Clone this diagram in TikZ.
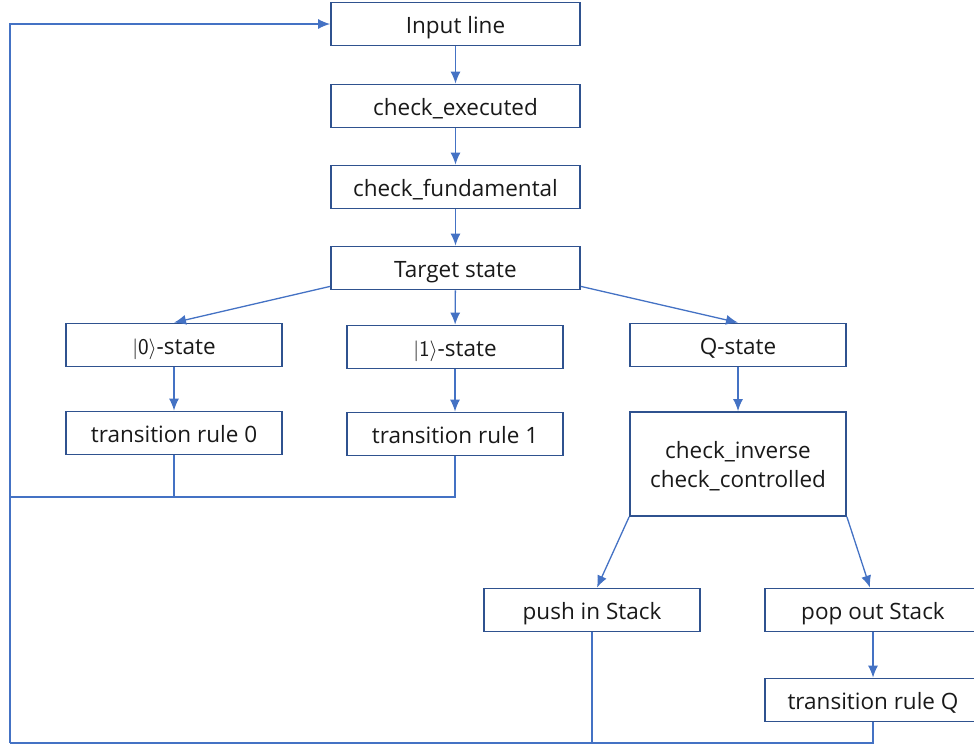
\documentclass[tikz,border=0pt]{standalone}
\usepackage{fontspec}
\setmainfont{Open Sans}
\usetikzlibrary{arrows.meta}
\definecolor{boxblue}{HTML}{2F528F}
\definecolor{linkblue}{HTML}{4472C4}
\tikzset{
  box/.style={draw=boxblue, line width=1.8pt, minimum height=43pt, inner sep=0pt,
    text=black!90, font=\fontsize{22.5}{29}\selectfont, align=center,
    text height=22pt, text depth=3pt},
  widebox/.style={box, minimum width=249pt},
  midbox/.style={box, minimum width=216pt},
  link/.style={draw=linkblue, line width=1.3pt},
}
\begin{document}
\begin{tikzpicture}[x=1pt, y=-1pt, >={Latex[length=12pt,width=10pt]}]
\useasboundingbox (0,0) rectangle (974,745);

% main column
\node[widebox] (input) at (455.5,24) {Input line};
\node[widebox] (exe) at (455.5,106) {check\_executed};
\node[widebox] (fund) at (455.5,187) {check\_fundamental};
\node[widebox] (target) at (455.5,268) {Target state};

% three states
\node[midbox] (zero) at (174,345) {$|\mathsf{0}\rangle$-state};
\node[midbox] (one) at (455,347) {$|\mathsf{1}\rangle$-state};
\node[midbox] (qst) at (738,345) {Q-state};
\node[midbox] (rule0) at (174,433) {transition rule 0};
\node[midbox] (rule1) at (455,434) {transition rule 1};
\node[midbox, minimum height=104pt, text height=50pt] (check) at (738,464) {check\_inverse\\check\_controlled};

% stack
\node[midbox] (push) at (592,610) {push in Stack};
\node[midbox] (pop) at (873,610) {pop out Stack};
\node[midbox] (ruleQ) at (873,700) {transition rule Q};

\coordinate (lt) at (10,24);
\coordinate (lmid) at (10,497);
\coordinate (lb) at (10,743);

\draw[link,->] (input) -- (exe);
\draw[link,->] (exe) -- (fund);
\draw[link,->] (fund) -- (target);
\draw[link,->] ([yshift=4pt]target.south west) -- (zero.north);
\draw[link,->] (target) -- (one);
\draw[link,->] ([yshift=4pt]target.south east) -- (qst.north);
\draw[link,->] (zero) -- (rule0);
\draw[link,->] (one) -- (rule1);
\draw[link,->] (qst) -- (check);
\draw[link,->] (check.south west) -- ([xshift=5pt]push.north);
\draw[link,->] (check.south east) -- ([xshift=-3pt]pop.north);
\draw[link,->] (pop) -- (ruleQ);

% back to input
\draw[link] (rule1.south) |- (lmid);
\draw[link] (rule0.south) -- (rule0.south |- lmid);
\draw[link] (ruleQ.south) |- (lb);
\draw[link] (push.south) -- (push.south |- lb);
\draw[link,->] (lb) -- (lt) -- (input.west);
\end{tikzpicture}
\end{document}
